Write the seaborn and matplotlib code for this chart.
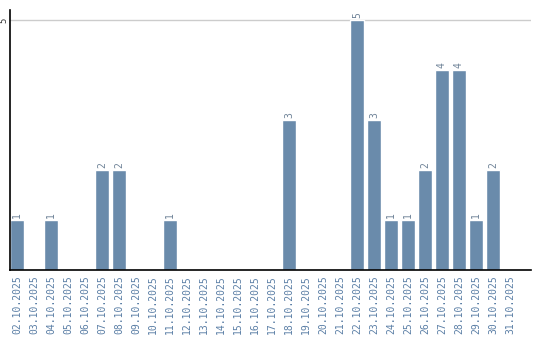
import matplotlib
matplotlib.use("Agg")
import matplotlib.pyplot as plt
import seaborn as sns
import pandas as pd

dates = [f"{d:02d}.10.2025" for d in range(2, 32)]
values = [1, 0, 1, 0, 0, 2, 2, 0, 0, 1,
          0, 0, 0, 0, 0, 0, 3, 0, 0, 0,
          5, 3, 1, 1, 2, 4, 4, 1, 2, 0]

df = pd.DataFrame({"date": dates, "count": values})

sns.set_style("white")
plt.rcParams['font.family'] = ['DejaVu Sans Mono', 'DejaVu Sans']

fig = plt.figure(figsize=(5.4, 3.4), dpi=100)
ax = fig.add_axes([10/540, 70/340, 521/540, 260/340])

bar_color = "#6a8bab"
sns.barplot(data=df, x="date", y="count", color=bar_color, width=0.82,
            saturation=1, ax=ax)

ax.set_xlim(-0.41, 30.24)
ax.set_ylim(0, 5.2)
ax.set_yticks([5])
ax.set_yticklabels(["5"], rotation=90, va="center", ha="right", fontsize=6.5, color="#333333")
ax.tick_params(axis="y", length=0, pad=1)
ax.tick_params(axis="x", length=0, pad=4)
ax.set_xticks(range(len(dates)))
ax.set_xticklabels(dates, rotation=90, fontsize=7, color="#5b7fa6")
ax.grid(axis="y", color="#cccccc", linewidth=1)
ax.set_axisbelow(True)
ax.set_xlabel("")
ax.set_ylabel("")

for s in ["top", "right"]:
    ax.spines[s].set_visible(False)
for s in ["left", "bottom"]:
    ax.spines[s].set_color("black")
    ax.spines[s].set_linewidth(1.2)

for i, v in enumerate(values):
    if v > 0:
        ax.text(i, v + 0.04, str(v), rotation=90, ha="center", va="bottom",
                fontsize=7, color="#6f8398")

fig.savefig("out.png", dpi=100)
